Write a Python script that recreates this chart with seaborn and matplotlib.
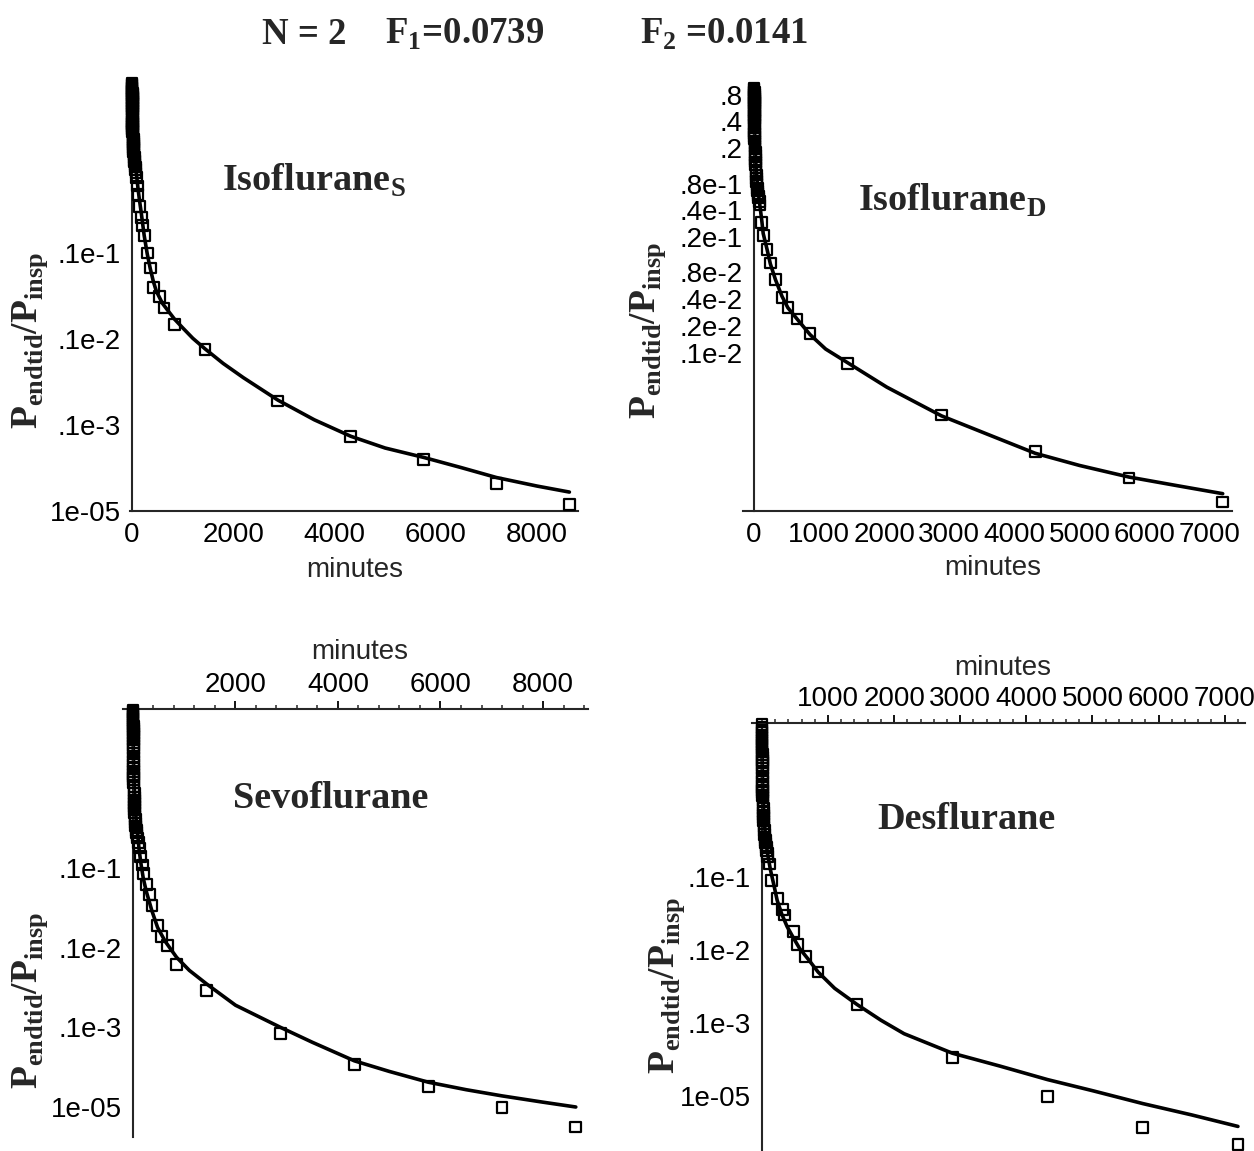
import matplotlib
matplotlib.use('Agg')
import matplotlib.pyplot as plt
import matplotlib.ticker as mticker
import seaborn as sns

# sampling times of the dense early measurements (minutes), shared by all four runs
early_t = [0.25, 0.5, 0.75, 1, 1.25, 1.5, 1.75, 2, 2.25, 2.5, 2.75, 3, 3.5, 4, 4.5, 5, 5.5, 6,
           7, 8, 9, 10, 11, 12, 13, 14, 15, 16, 18, 20, 22, 24, 26, 28, 30, 33, 36, 40, 45, 50,
           55, 60, 65, 70, 80, 90]

# Isoflurane S : measured points and model curve (minutes, Pendtid/Pinsp)
iso_s_t = early_t + [105, 120, 150, 180, 210, 240, 300, 360, 420, 540, 630, 840, 1440, 2880,
                     4320, 5760, 7200, 8640]
iso_s_v = [0.95, 0.92, 0.88, 0.85, 0.82, 0.78, 0.75, 0.72, 0.69, 0.67, 0.64, 0.62, 0.58, 0.55,
           0.52, 0.5, 0.48, 0.46, 0.42, 0.39, 0.36, 0.34, 0.32, 0.31, 0.295, 0.28, 0.27, 0.26,
           0.24, 0.22, 0.21, 0.2, 0.19, 0.18, 0.17, 0.16, 0.15, 0.14, 0.13, 0.12, 0.115, 0.108,
           0.1, 0.093, 0.085, 0.075,
           0.06, 0.048, 0.035, 0.026, 0.021, 0.016, 0.010, 0.0067, 0.0040, 0.0031, 0.0023,
           0.00146, 0.00075, 1.9e-4, 7.4e-5, 4.0e-5, 2.1e-5, 1.2e-5]
iso_s_fit_t = [0, 1, 2, 3, 5, 8, 12, 20, 30, 45, 60, 90, 120, 150, 180, 240, 300, 360, 420,
               480, 600, 720, 840, 1000, 1200, 1440, 1800, 2200, 2880, 3600, 4320, 5000, 5760,
               6500, 7200, 8000, 8640]
iso_s_fit_v = [1.0, 0.78, 0.64, 0.55, 0.45, 0.37, 0.30, 0.23, 0.18, 0.14, 0.115, 0.08, 0.055,
               0.04, 0.03, 0.016, 0.0098, 0.0066, 0.0047, 0.0036, 0.0026, 0.0021, 0.0017,
               0.00135, 0.00102, 0.00077, 0.00052, 0.000355, 0.000195, 0.000115, 7.4e-5,
               5.4e-5, 4.2e-5, 3.2e-5, 2.45e-5, 1.95e-5, 1.66e-5]

# Isoflurane D
iso_d_t = early_t + [120, 140, 200, 250, 330, 430, 520, 660, 860, 1440, 2880, 4320, 5760, 7200]
iso_d_v = [0.95, 0.92, 0.88, 0.84, 0.8, 0.76, 0.72, 0.69, 0.66, 0.63, 0.6, 0.57, 0.53, 0.5,
           0.47, 0.45, 0.43, 0.41, 0.37, 0.34, 0.31, 0.29, 0.27, 0.255, 0.24, 0.225, 0.21, 0.2,
           0.18, 0.165, 0.15, 0.14, 0.13, 0.12, 0.11, 0.1, 0.092, 0.085, 0.078, 0.071, 0.066,
           0.062, 0.058, 0.055, 0.05, 0.046,
           0.029, 0.021, 0.0144, 0.0102, 0.0066, 0.0042, 0.0032, 0.0024, 0.00166, 0.00076,
           2.0e-4, 7.8e-5, 3.9e-5, 2.1e-5]
iso_d_fit_t = [0, 1, 2, 3, 5, 8, 12, 20, 30, 45, 60, 90, 120, 140, 200, 250, 330, 430, 520,
               660, 860, 1100, 1440, 2040, 2880, 3600, 4320, 5000, 5760, 6500, 7200]
iso_d_fit_v = [1.0, 0.72, 0.58, 0.48, 0.38, 0.30, 0.24, 0.17, 0.125, 0.09, 0.068, 0.045, 0.03,
               0.022, 0.0145, 0.010, 0.0066, 0.0043, 0.0032, 0.0024, 0.0016, 0.0011, 0.00077,
               0.00041, 0.000195, 0.00012, 7.4e-5, 5.4e-5, 4.0e-5, 3.2e-5, 2.6e-5]

# Sevoflurane
sevo_t = early_t + [105, 120, 150, 180, 210, 260, 320, 370, 480, 550, 680, 850, 1440, 2880,
                    4320, 5760, 7200, 8640]
sevo_v = [0.97, 0.93, 0.89, 0.85, 0.8, 0.76, 0.72, 0.68, 0.64, 0.6, 0.57, 0.54, 0.49, 0.45,
          0.41, 0.38, 0.35, 0.32, 0.28, 0.25, 0.22, 0.2, 0.18, 0.165, 0.15, 0.14, 0.13, 0.12,
          0.105, 0.095, 0.086, 0.078, 0.071, 0.065, 0.06, 0.055, 0.05, 0.045, 0.041, 0.037,
          0.034, 0.032, 0.03, 0.028, 0.026, 0.024,
          0.021, 0.018, 0.014, 0.011, 0.0085, 0.0062, 0.0047, 0.0034, 0.0019, 0.0014, 0.00107,
          6.2e-4, 2.9e-4, 8.4e-5, 3.4e-5, 1.8e-5, 9.8e-6, 5.6e-6]
sevo_fit_t = [0, 1, 2, 3, 5, 8, 12, 20, 30, 45, 60, 90, 120, 150, 200, 260, 370, 480, 630, 850,
              1100, 1440, 2000, 2880, 3500, 4320, 5000, 5760, 6500, 7200, 8000, 8640]
sevo_fit_v = [1.0, 0.7, 0.55, 0.45, 0.34, 0.26, 0.2, 0.13, 0.09, 0.06, 0.042, 0.027, 0.017,
              0.012, 0.0075, 0.0051, 0.0029, 0.0018, 0.0012, 0.00076, 0.00052, 0.00035,
              0.00019, 0.0001, 6.5e-5, 3.8e-5, 2.8e-5, 2.05e-5, 1.65e-5, 1.38e-5, 1.15e-5, 1.0e-5]

# Desflurane
des_t = early_t + [110, 150, 230, 310, 340, 480, 540, 660, 850, 1440, 2880, 4320, 5760, 7200]
des_v = [1.2, 1.1, 1.0, 0.93, 0.86, 0.8, 0.74, 0.69, 0.64, 0.6, 0.56, 0.52, 0.47, 0.43, 0.39,
         0.36, 0.33, 0.3, 0.26, 0.23, 0.2, 0.18, 0.165, 0.15, 0.14, 0.13, 0.12, 0.11, 0.095,
         0.085, 0.077, 0.07, 0.064, 0.058, 0.053, 0.048, 0.043, 0.038, 0.034, 0.031, 0.029,
         0.027, 0.025, 0.023, 0.021, 0.019,
         0.015, 0.009, 0.0051, 0.0036, 0.003, 0.0018, 0.0012, 8.1e-4, 5.0e-4, 1.8e-4, 3.4e-5,
         1.0e-5, 3.8e-6, 2.2e-6]
des_fit_t = [0, 1, 2, 3, 5, 8, 12, 20, 30, 50, 80, 130, 180, 230, 300, 380, 470, 570, 700, 850,
             1100, 1440, 1800, 2150, 2880, 3600, 4320, 5000, 5760, 6500, 7200]
des_fit_v = [1.0, 0.7, 0.55, 0.45, 0.33, 0.24, 0.17, 0.11, 0.07, 0.04, 0.022, 0.0123, 0.0078,
             0.0048, 0.0031, 0.0021, 0.0015, 0.00105, 0.00075, 0.0005, 0.0003, 0.00018, 0.00011,
             7.2e-5, 3.9e-5, 2.6e-5, 1.7e-5, 1.2e-5, 8.0e-6, 5.6e-6, 3.9e-6]

# Maple-style tick labels
decade_ticks = [1e-2, 1e-3, 1e-4, 1e-5]
decade_labels = ['.1e-1', '.1e-2', '.1e-3', '1e-05']
isod_ticks = [0.8, 0.4, 0.2, 0.08, 0.04, 0.02, 0.008, 0.004, 0.002, 0.001]
isod_labels = ['.8', '.4', '.2', '.8e-1', '.4e-1', '.2e-1', '.8e-2', '.4e-2', '.2e-2', '.1e-2']

sns.set_style('white')
plt.rcParams['font.family'] = ['Liberation Sans', 'DejaVu Sans']
plt.rcParams['mathtext.fontset'] = 'custom'
plt.rcParams['mathtext.rm'] = 'Liberation Serif'
plt.rcParams['mathtext.bf'] = 'Liberation Serif:bold'

W, H = 1254, 1151
fig = plt.figure(figsize=(W / 100, H / 100), dpi=100)
serif = dict(family='Liberation Serif', weight='bold')


def px(x, y):
    return x / W, 1 - y / H


def panel(box, xlim, ylim, t, v, ft, fv, xmajor, xminor, yt, yl, on_top):
    left, right, top, bottom = box
    ax = fig.add_axes([left / W, 1 - bottom / H, (right - left) / W, (bottom - top) / H])
    ax.set_facecolor('none')
    ax.set_yscale('log')
    sns.lineplot(x=ft, y=fv, ax=ax, color='black', lw=2.6, sort=False, estimator=None)
    sns.scatterplot(x=t, y=v, ax=ax, marker='s', s=60, facecolor='none', edgecolor='black',
                    linewidth=1.6, zorder=3, clip_on=False)
    ax.set_xlim(xlim)
    ax.set_ylim(ylim)
    ax.set_xlabel('')
    ax.set_ylabel('')
    ax.spines['right'].set_visible(False)
    ax.spines['left'].set_position(('data', 0))
    if on_top:
        ax.spines['bottom'].set_visible(False)
        ax.xaxis.tick_top()
    else:
        ax.spines['top'].set_visible(False)
    for s in ax.spines.values():
        s.set_linewidth(1.5)
    ax.xaxis.set_major_locator(mticker.FixedLocator(xmajor))
    ax.xaxis.set_major_formatter(mticker.FixedFormatter([str(x) for x in xmajor]))
    ax.xaxis.set_minor_locator(mticker.MultipleLocator(xminor))
    ax.yaxis.set_major_locator(mticker.FixedLocator(yt))
    ax.yaxis.set_major_formatter(mticker.FixedFormatter(yl))
    ax.yaxis.set_minor_locator(mticker.LogLocator(subs=[2, 3, 4, 5, 6, 7, 8, 9], numticks=20))
    ax.yaxis.set_minor_formatter(mticker.NullFormatter())
    ax.tick_params(which='major', direction='out', length=6, width=1.3, labelsize=20, pad=2,
                   colors='black')
    ax.tick_params(which='minor', direction='out', length=3, width=1.1)
    return ax


panel((130, 578, 81, 511), (-40, 8810), (1e-5, 1.0), iso_s_t, iso_s_v, iso_s_fit_t, iso_s_fit_v,
      [0, 2000, 4000, 6000, 8000], 400, decade_ticks, decade_labels, False)
panel((743, 1232, 86, 511), (-170, 7343), (1.66e-5, 1.0), iso_d_t, iso_d_v, iso_d_fit_t,
      iso_d_fit_v, [0, 1000, 2000, 3000, 4000, 5000, 6000, 7000], 200, isod_ticks, isod_labels,
      False)
panel((123, 588, 709, 1137), (-195, 8878), (4.2e-6, 1.0), sevo_t, sevo_v, sevo_fit_t, sevo_fit_v,
      [2000, 4000, 6000, 8000], 400, decade_ticks, decade_labels, True)
panel((752, 1245, 723, 1151), (-150, 7307), (1.8e-6, 1.26), des_t, des_v, des_fit_t, des_fit_v,
      [1000, 2000, 3000, 4000, 5000, 6000, 7000], 200, decade_ticks, decade_labels, True)

# axis titles
for (x, y) in [(355, 570), (993, 568), (360, 652), (1003, 668)]:
    fig.text(*px(x, y), 'minutes', ha='center', va='center', fontsize=20)

ylab = r'P$_{\mathbf{endtid}}$/P$_{\mathbf{insp}}$'
for (x, y) in [(30, 340), (648, 330), (30, 1000), (667, 985)]:
    fig.text(*px(x, y), ylab, rotation=90, ha='center', va='center', fontsize=27, **serif)

# panel names
fig.text(*px(222, 191), r'Isoflurane$_{\mathbf{S}}$', ha='left', va='baseline', fontsize=27.5, **serif)
fig.text(*px(858, 211), r'Isoflurane$_{\mathbf{D}}$', ha='left', va='baseline', fontsize=27.5, **serif)
fig.text(*px(233, 808), 'Sevoflurane', ha='left', va='baseline', fontsize=27.5, **serif)
fig.text(*px(877, 829), 'Desflurane', ha='left', va='baseline', fontsize=27.5, **serif)

# header
fig.text(*px(262, 44), 'N = 2', ha='left', va='baseline', fontsize=26.5, **serif)
fig.text(*px(385, 44), r'F$_{\mathbf{1}}$=0.0739', ha='left', va='baseline', fontsize=26.5, **serif)
fig.text(*px(640, 44), r'F$_{\mathbf{2}}$ =0.0141', ha='left', va='baseline', fontsize=26.5, **serif)

fig.savefig('out.png', dpi=100, facecolor='white')
